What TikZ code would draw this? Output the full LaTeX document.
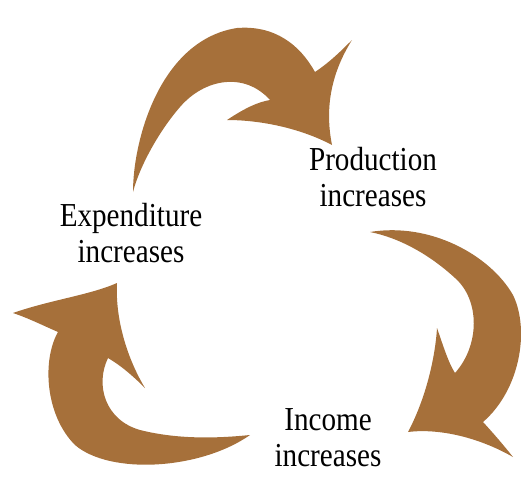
\documentclass[tikz,border=0pt]{standalone}
\usepackage{fontspec}
\newfontfamily\lblfont[FakeStretch=0.87]{Liberation Serif}
\definecolor{arrowbrown}{RGB}{166,112,58}

\begin{document}
\begin{tikzpicture}[x=1pt,y=-1pt,
  bigarrow/.style={fill=arrowbrown,draw=none},
  lbl/.style={font=\lblfont\fontsize{33.5}{36}\selectfont,align=center,inner sep=0pt}]
  \useasboundingbox (0,0) rectangle (521,479);
  % top arrow: expenditure -> production
  \fill[bigarrow] (133,192) .. controls (133,140) and (160,40) .. (237,28)
    .. controls (275,25) and (300,45) .. (315,72)
    .. controls (330,62) and (342,50) .. (352,40)
    .. controls (330,75) and (325,110) .. (332,145)
    .. controls (300,128) and (260,120) .. (227,120)
    .. controls (245,108) and (258,102) .. (270,100)
    .. controls (245,72) and (205,78) .. (180,107)
    .. controls (160,130) and (140,165) .. (133,192) -- cycle;
  % right arrow: production -> income
  \fill[bigarrow] (370,232) .. controls (430,222) and (490,255) .. (513,295)
    .. controls (530,330) and (520,390) .. (483,422)
    .. controls (495,435) and (505,447) .. (513,457)
    .. controls (480,438) and (440,428) .. (408,432)
    .. controls (425,400) and (435,360) .. (437,328)
    .. controls (443,345) and (448,362) .. (455,373)
    .. controls (480,345) and (480,300) .. (455,278)
    .. controls (430,255) and (400,238) .. (370,232) -- cycle;
  % left arrow: income -> expenditure
  \fill[bigarrow] (250,435) .. controls (200,470) and (110,475) .. (75,445)
    .. controls (45,415) and (42,360) .. (58,332)
    .. controls (42,325) and (28,318) .. (13,313)
    .. controls (50,300) and (90,295) .. (117,283)
    .. controls (115,320) and (128,360) .. (145,388)
    .. controls (132,375) and (120,365) .. (108,358)
    .. controls (95,385) and (105,420) .. (140,430)
    .. controls (180,440) and (220,438) .. (250,435) -- cycle;
  \node[lbl] (prod) at (373,177.5) {Production\\increases};
  \node[lbl] (expend) at (131,233.5) {Expenditure\\increases};
  \node[lbl] (income) at (328,438) {Income\\increases};
\end{tikzpicture}
\end{document}
